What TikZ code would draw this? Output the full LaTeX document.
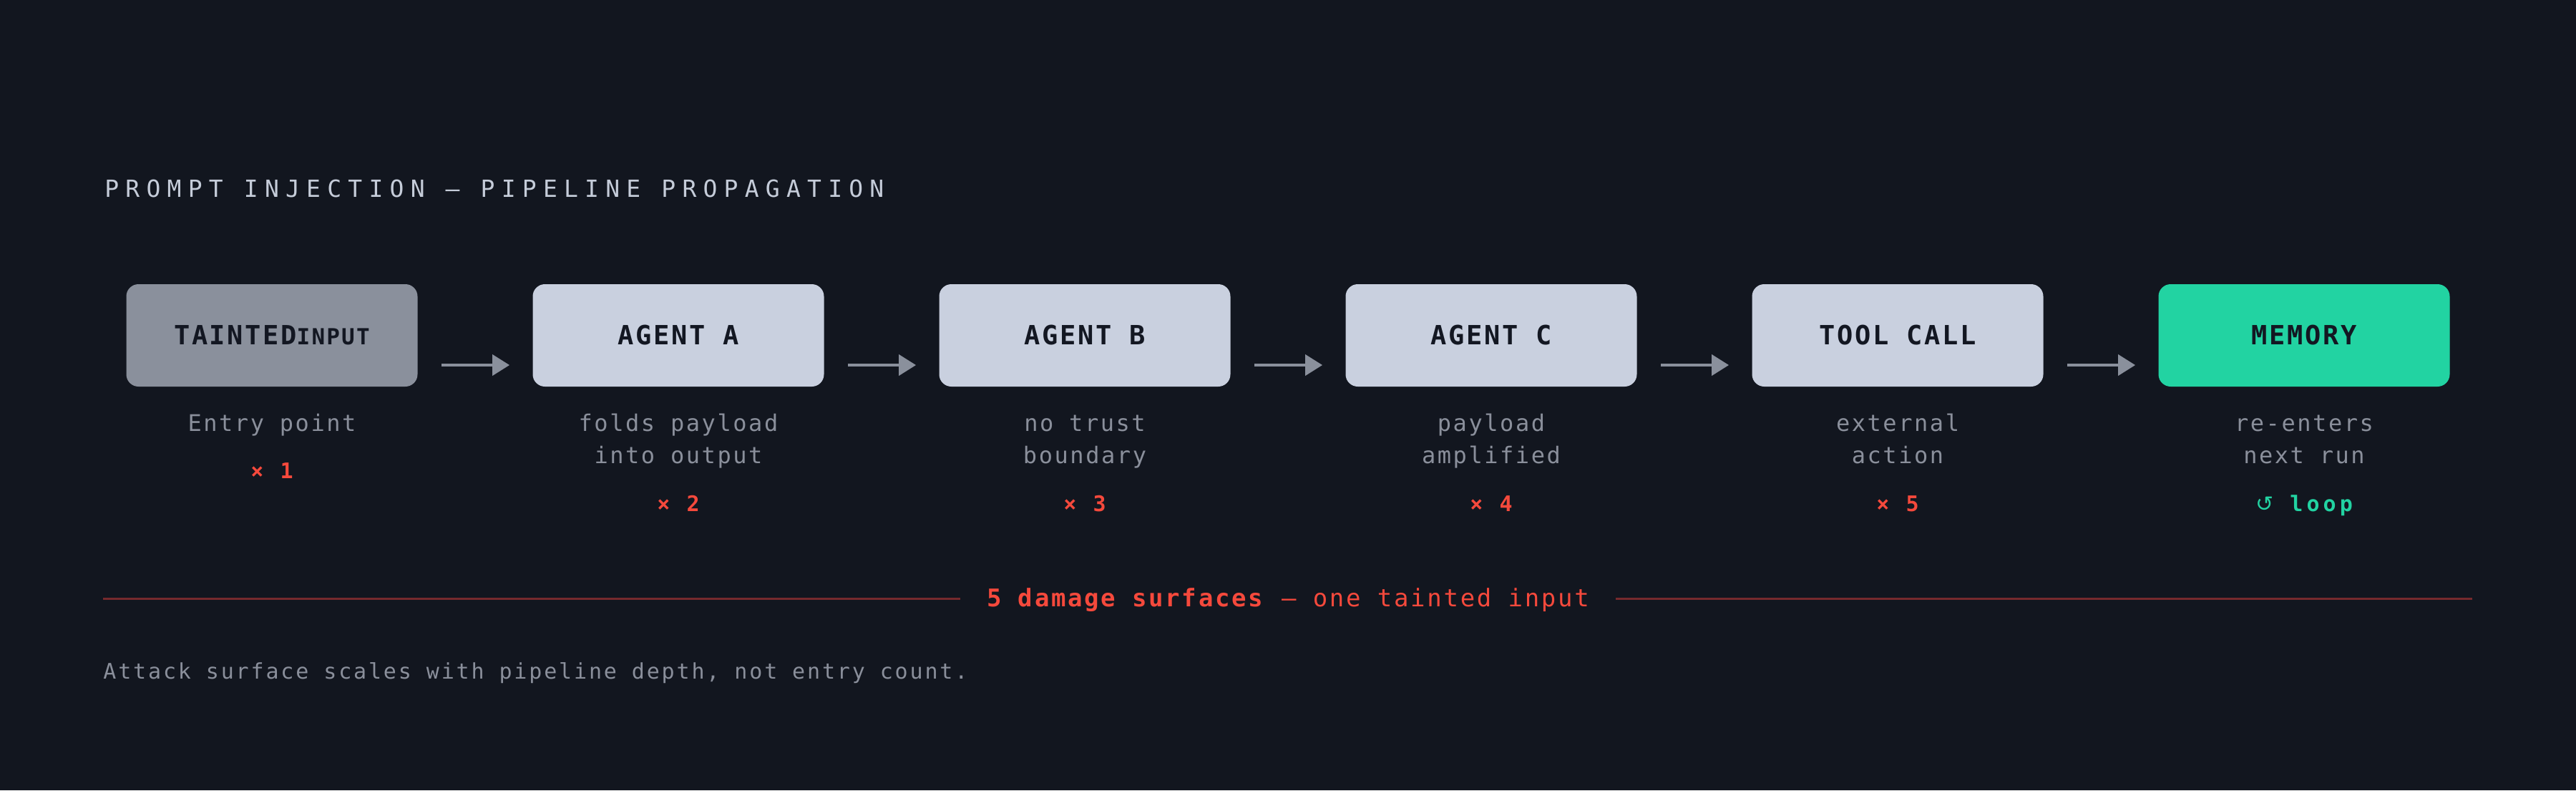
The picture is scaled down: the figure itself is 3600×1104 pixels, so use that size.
\documentclass[tikz,border=0pt]{standalone}
\usepackage{fontspec}
\usetikzlibrary{arrows.meta,calc}
\newfontfamily\FTitle[LetterSpace=28]{DejaVu Sans Mono}
\newfontfamily\FLabel[LetterSpace=7]{DejaVu Sans Mono}
\newfontfamily\FSub[LetterSpace=8]{DejaVu Sans Mono}
\newfontfamily\FCount[LetterSpace=17]{DejaVu Sans Mono}
\newfontfamily\FDamage[LetterSpace=8]{DejaVu Sans Mono}
\newfontfamily\FFoot[LetterSpace=9.5]{DejaVu Sans Mono}
\newfontfamily\FSym{DejaVu Sans}
\definecolor{bg}{HTML}{12161F}
\definecolor{titlec}{HTML}{C5CCD9}
\definecolor{taint}{HTML}{8A909C}
\definecolor{agent}{HTML}{C9D0DF}
\definecolor{mem}{HTML}{22D3A2}
\definecolor{ink}{HTML}{131722}
\definecolor{arrowc}{HTML}{8A909C}
\definecolor{subc}{HTML}{8A8F9B}
\definecolor{redc}{HTML}{F5493C}
\definecolor{redline}{HTML}{762A2D}
\tikzset{
  stagebox/.style={rounded corners=8.5pt, minimum width=203.5pt, minimum height=71.5pt,
    inner sep=0pt, text=ink, font=\FLabel\bfseries\fontsize{18.5}{18.5}\selectfont},
  sublabel/.style={anchor=base, align=center, text=subc, inner sep=0pt,
    font=\FSub\fontsize{16}{22.5}\selectfont},
  counter/.style={anchor=base, inner sep=0pt, text=redc,
    font=\FCount\bfseries\fontsize{15}{15}\selectfont},
  flow/.style={draw=arrowc, line width=2pt, -{Triangle[length=12pt,width=14.5pt]}},
  redrule/.style={draw=redline, line width=1.5pt},
}
\begin{document}
\begin{tikzpicture}[x=0.5pt,y=-0.5pt]
\fill[bg] (0,0) rectangle (3600,1104);
\useasboundingbox (0,0) rectangle (3600,1104);

\node[anchor=base west, inner sep=0pt, text=titlec, font=\FTitle\fontsize{16.5}{16.5}\selectfont]
  (title) at (146,275) {PROMPT INJECTION — PIPELINE PROPAGATION};

\node[stagebox, fill=taint] (s1) at (380,468.5) {TAINTED{\fontsize{15.5}{15.5}\selectfont INPUT}};
\node[stagebox, fill=agent] (s2) at (948,468.5) {AGENT A};
\node[stagebox, fill=agent] (s3) at (1516,468.5) {AGENT B};
\node[stagebox, fill=agent] (s4) at (2084,468.5) {AGENT C};
\node[stagebox, fill=agent] (s5) at (2652,468.5) {TOOL CALL};
\node[stagebox, fill=mem] (s6) at (3220,468.5) {MEMORY};

\foreach \a/\b in {s1/s2,s2/s3,s3/s4,s4/s5,s5/s6}{
  \draw[flow] ($(\a.east)+(33,41.5)$) -- ($(\b.west)+(-32,41.5)$);
}

% single-line label: baseline of its line; two-line labels: baseline of the last line
\node[sublabel] (d1) at ($(s1.center)+(0,133.5)$) {Entry point};
\node[sublabel] (d2) at ($(s2.center)+(0,178.5)$) {folds payload\\into output};
\node[sublabel] (d3) at ($(s3.center)+(0,178.5)$) {no trust\\boundary};
\node[sublabel] (d4) at ($(s4.center)+(0,178.5)$) {payload\\amplified};
\node[sublabel] (d5) at ($(s5.center)+(0,178.5)$) {external\\action};
\node[sublabel] (d6) at ($(s6.center)+(0,178.5)$) {re-enters\\next run};

\node[counter] (c1) at ($(s1.center)+(0,199.5)$) {× 1};
\node[counter] (c2) at ($(s2.center)+(0,245.5)$) {× 2};
\node[counter] (c3) at ($(s3.center)+(0,245.5)$) {× 3};
\node[counter] (c4) at ($(s4.center)+(0,245.5)$) {× 4};
\node[counter] (c5) at ($(s5.center)+(0,245.5)$) {× 5};
\node[counter, text=mem] (c6) at ($(s6.center)+(0,245.5)$) {{\FSym\mdseries ↺} loop};

\node[anchor=base, inner sep=0pt, inner xsep=18.5pt, text=redc, font=\FDamage\fontsize{17}{17}\selectfont]
  (dmg) at (1800,847) {\textbf{5 damage surfaces} — one tainted input};
\coordinate (ruleL) at (144,836);
\coordinate (ruleR) at (3455,836);
\draw[redrule] (ruleL) -- (ruleL -| dmg.west);
\draw[redrule] (dmg.east |- ruleR) -- (ruleR);

\node[anchor=base west, inner sep=0pt, text=subc, font=\FFoot\fontsize{15}{15}\selectfont]
  (foot) at (144,948) {Attack surface scales with pipeline depth, not entry count.};
\end{tikzpicture}
\end{document}
